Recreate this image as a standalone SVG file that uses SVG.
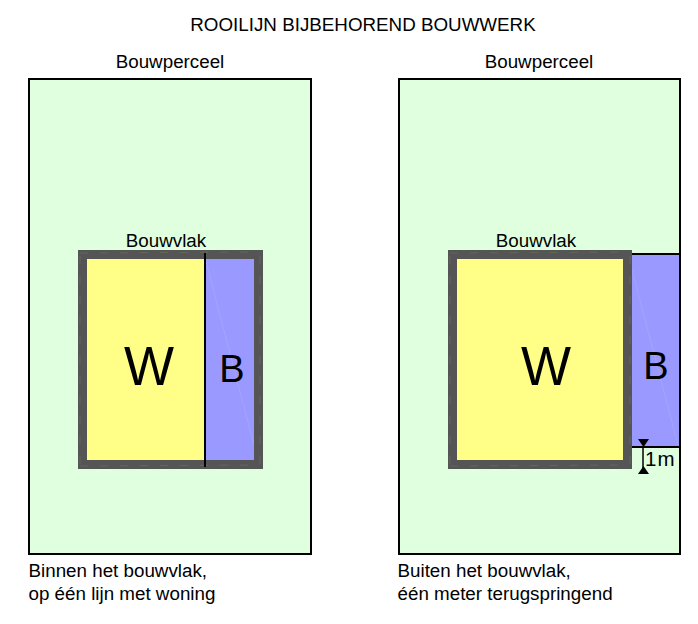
<svg xmlns="http://www.w3.org/2000/svg" width="698" height="624" viewBox="0 0 698 624">
<style>
text{font-family:"Liberation Sans",Arial,sans-serif;fill:#000}
.t{font-size:18.800px}
.c{text-anchor:middle}
.plot{fill:#dfffdf;stroke:#000;stroke-width:2}
.w{fill:#ffff88}
.b{fill:#9999ff}
.v{fill:none;stroke:#555;stroke-width:9}
.l{stroke:#000;stroke-width:2;fill:none}
.f{fill:none;stroke:#b4b4ff;stroke-width:1;opacity:.4}
.d{fill:none;stroke:#77775f;stroke-width:1;stroke-dasharray:8 12;opacity:.45}
</style>
<rect width="698" height="624" fill="#fff"/>
<text class="t c" x="363" y="31">ROOILIJN BIJBEHOREND BOUWWERK</text>
<g id="perceel-links">
<rect class="plot" x="29" y="79" width="282" height="475"/>
<text class="t c" x="170" y="68">Bouwperceel</text>
</g>
<g id="bouwvlak-links">
<rect class="w" x="82" y="255" width="123" height="210"/>
<rect class="b" x="205" y="255" width="53" height="210"/>
<path class="f" d="M205 258L254 445"/>
<rect class="v" x="82.500" y="254.500" width="176" height="210"/>
<path class="d" d="M80 253L258 252M80 256V464M260 256V464M80 466L258 465"/>
<text class="t c" x="166" y="247">Bouwvlak</text>
</g>
<g id="woning-links"><text x="124" y="385" font-size="56" textLength="50" lengthAdjust="spacingAndGlyphs">W</text></g>
<g id="bijgebouw-links"><text x="232" y="382" font-size="38" class="c">B</text></g>
<g id="perceel-rechts">
<rect class="plot" x="399" y="79" width="281" height="475"/>
<text class="t c" x="539" y="68">Bouwperceel</text>
</g>
<g id="bijgebouw-rechts">
<rect class="b" x="628" y="254" width="52" height="193"/>
<path class="f" d="M632 270L678 445"/>
<path class="l" d="M628 254H680V447H628"/>
<text x="656" y="379" font-size="38" class="c">B</text>
</g>
<g id="bouwvlak-rechts">
<rect class="w" x="452" y="255" width="175" height="209"/>
<rect class="v" x="452.500" y="254.500" width="175" height="210"/>
<path class="d" d="M450 253L628 252M450 256V464M630 256V464M450 466L628 465"/>
<text class="t c" x="536" y="247">Bouwvlak</text>
</g>
<g id="woning-rechts"><text x="521" y="385" font-size="56" textLength="50" lengthAdjust="spacingAndGlyphs">W</text></g>
<g id="connectors">
<path class="l" d="M205 253V467"/>
<path d="M643 447V473" stroke="#000" stroke-width="1.500" fill="none"/>
<path d="M638 439H649L643.500 447ZM638 474H649L643.500 466Z" fill="#000"/>
</g>
<text x="645" y="465.500" font-size="20.500" letter-spacing="1">1m</text>
<text class="t" x="28.500" y="577">Binnen het bouwvlak,</text>
<text class="t" x="28.500" y="600">op één lijn met woning</text>
<text class="t" x="397.500" y="577">Buiten het bouwvlak,</text>
<text class="t" x="397.500" y="600">één meter terugspringend</text>
</svg>
